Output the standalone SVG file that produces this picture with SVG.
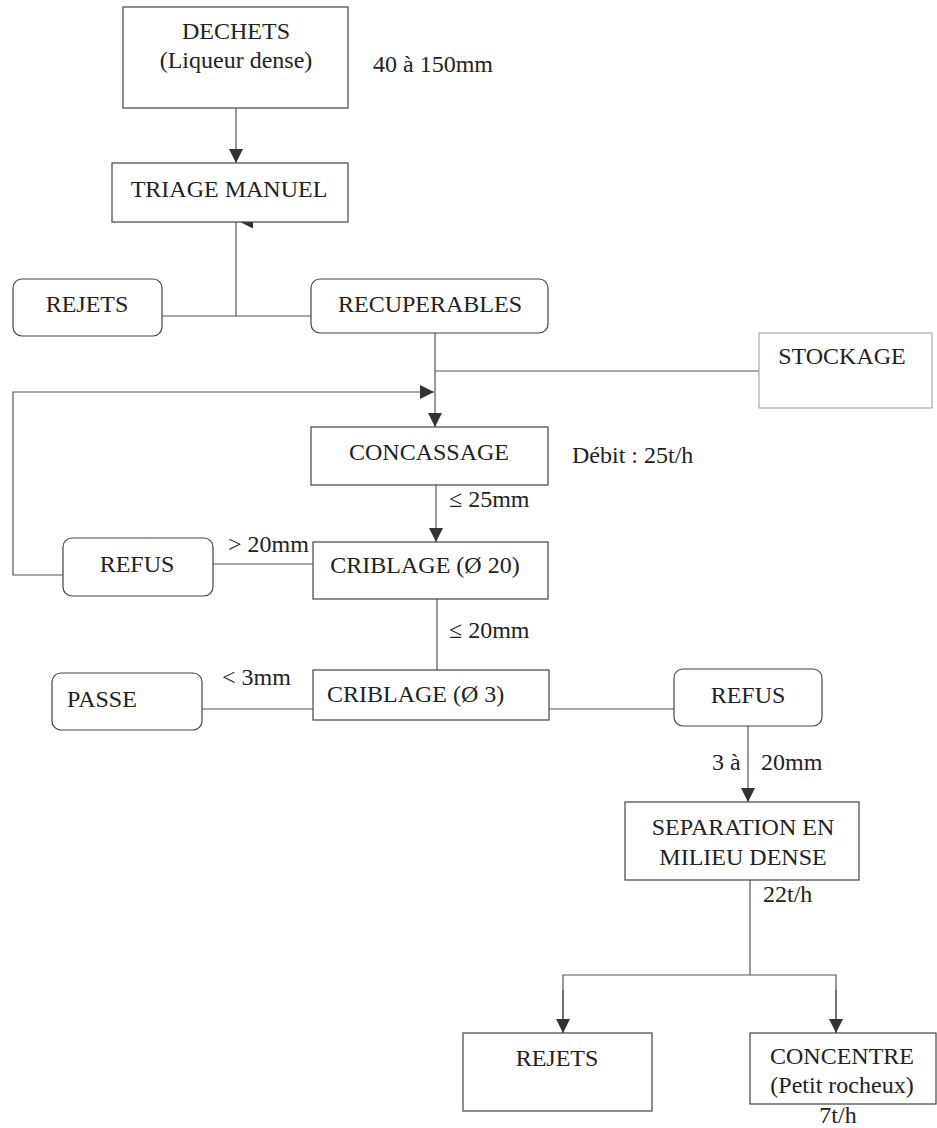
<svg xmlns="http://www.w3.org/2000/svg" width="937" height="1128" viewBox="0 0 937 1128">
<style>
.box{fill:#fff;stroke:#444;stroke-width:1.2}
.faint{fill:#fff;stroke:#999;stroke-width:1}
.t{font-family:"Liberation Serif","Times New Roman",serif;font-size:24px;fill:#222}
.m{text-anchor:middle}
.ln{fill:none;stroke:#555;stroke-width:1.2}
</style>
<defs>
<marker id="ah" markerUnits="userSpaceOnUse" markerWidth="14" markerHeight="14" viewBox="0 0 14 14" refX="14" refY="7" orient="auto">
<path d="M0,0 L14,7 L0,14 Z" fill="#333"/>
</marker>
</defs>
<rect width="937" height="1128" fill="#fff"/>

<g id="connectors">
<line class="ln" x1="236" y1="108" x2="236" y2="163" marker-end="url(#ah)"/>
<polyline class="ln" points="162,316 311,316"/>
<line class="ln" x1="236" y1="316" x2="236" y2="222"/>
<polygon points="240,222 253,215.5 253,228.5" fill="#333"/>
<line class="ln" x1="435" y1="333" x2="435" y2="427" marker-end="url(#ah)"/>
<line class="ln" x1="435" y1="371" x2="759" y2="371"/>
<polyline class="ln" points="63,575 13,575 13,392 434,392" marker-end="url(#ah)"/>
<line class="ln" x1="436" y1="485" x2="436" y2="542" marker-end="url(#ah)"/>
<line class="ln" x1="213" y1="564" x2="313" y2="564"/>
<line class="ln" x1="437" y1="599" x2="437" y2="670"/>
<line class="ln" x1="202" y1="709" x2="313" y2="709"/>
<line class="ln" x1="549" y1="709" x2="674" y2="709"/>
<line class="ln" x1="748" y1="726" x2="748" y2="802" marker-end="url(#ah)"/>
<line class="ln" x1="750" y1="880" x2="750" y2="975"/>
<polyline class="ln" points="563,1033 563,975 836,975 836,1033"/>
<line class="ln" x1="563" y1="990" x2="563" y2="1033" marker-end="url(#ah)"/>
<line class="ln" x1="836" y1="990" x2="836" y2="1033" marker-end="url(#ah)"/>
</g>

<g id="dechets">
<rect class="box" x="123" y="7" width="225" height="101"/>
<text class="t m" x="236" y="39">DECHETS</text>
<text class="t m" x="236" y="68">(Liqueur dense)</text>
</g>
<text class="t" x="373" y="72">40 à 150mm</text>

<g id="triage">
<rect class="box" x="112" y="163" width="236" height="59"/>
<text class="t m" x="229" y="197">TRIAGE MANUEL</text>
</g>

<g id="rejets1">
<rect class="box" x="13" y="279" width="149" height="57" rx="9"/>
<text class="t m" x="87" y="312">REJETS</text>
</g>

<g id="recuperables">
<rect class="box" x="311" y="279" width="237" height="54" rx="9"/>
<text class="t m" x="430" y="312">RECUPERABLES</text>
</g>

<g id="stockage">
<rect class="faint" x="759" y="333" width="173" height="75"/>
<text class="t m" x="842" y="364">STOCKAGE</text>
</g>

<g id="concassage">
<rect class="box" x="311" y="427" width="237" height="58"/>
<text class="t m" x="429" y="460">CONCASSAGE</text>
</g>
<text class="t" x="572" y="463">Débit : 25t/h</text>
<text class="t" x="449" y="507">≤ 25mm</text>

<g id="refus1">
<rect class="box" x="63" y="538" width="150" height="58" rx="9"/>
<text class="t m" x="137" y="572">REFUS</text>
</g>
<text class="t" x="228" y="552">&gt; 20mm</text>

<g id="criblage20">
<rect class="box" x="313" y="542" width="235" height="57"/>
<text class="t m" x="425" y="573">CRIBLAGE (Ø 20)</text>
</g>
<text class="t" x="449" y="638">≤ 20mm</text>

<g id="passe">
<rect class="box" x="52" y="673" width="150" height="57" rx="9"/>
<text class="t" x="67" y="707">PASSE</text>
</g>
<text class="t" x="222" y="685">&lt; 3mm</text>

<g id="criblage3">
<rect class="box" x="313" y="670" width="236" height="50"/>
<text class="t" x="327" y="702">CRIBLAGE (Ø 3)</text>
</g>

<g id="refus2">
<rect class="box" x="674" y="669" width="148" height="57" rx="9"/>
<text class="t m" x="748" y="703">REFUS</text>
</g>
<text class="t" x="712" y="770">3 à</text>
<text class="t" x="761" y="770">20mm</text>

<g id="separation">
<rect class="box" x="625" y="802" width="234" height="78"/>
<text class="t m" x="743" y="835">SEPARATION EN</text>
<text class="t m" x="743" y="865">MILIEU DENSE</text>
</g>
<text class="t" x="763" y="902">22t/h</text>

<g id="rejets2">
<rect class="box" x="463" y="1033" width="189" height="78"/>
<text class="t m" x="557" y="1066">REJETS</text>
</g>

<g id="concentre">
<rect class="box" x="750" y="1033" width="186" height="71"/>
<text class="t m" x="842" y="1064">CONCENTRE</text>
<text class="t m" x="842" y="1093">(Petit rocheux)</text>
</g>
<text class="t m" x="838" y="1123">7t/h</text>
</svg>
